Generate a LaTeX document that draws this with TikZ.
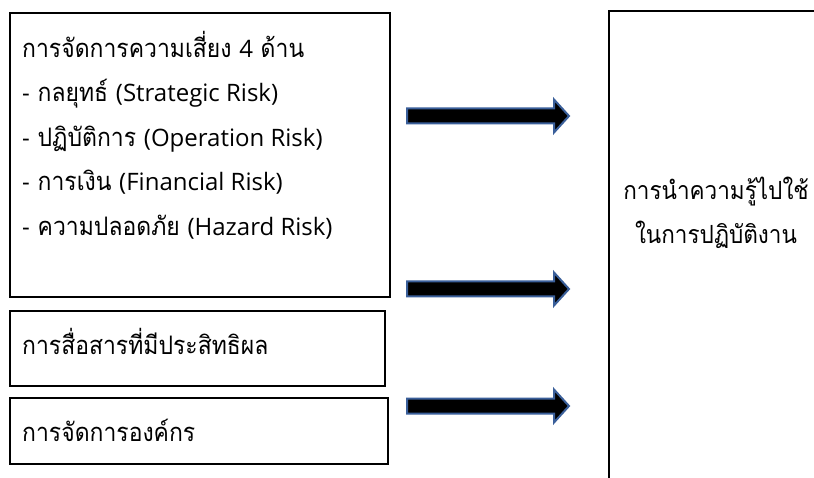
\documentclass[tikz,border=0pt]{standalone}
\usepackage{fontspec}
\setmainfont[Script=Thai, FakeStretch=0.9]{Loma}
\newfontfamily\latinfont{Open Sans}
\newcommand\lt[1]{{\latinfont\fontsize{24}{30}\selectfont #1}}
\definecolor{arrowblue}{HTML}{3A5F9A}
\tikzset{
  x=1pt, y=-1pt,
  box/.style={draw=black, line width=1.6pt, rectangle, inner sep=0pt},
  txt/.style={anchor=base west, inner sep=0pt, font=\fontsize{25.5}{30}\selectfont},
  ctxt/.style={anchor=base, inner sep=0pt, font=\fontsize{25}{30}\selectfont},
  blockarrow/.pic={
    \path[fill=black, draw=arrowblue, line width=2pt, line join=miter]
      (0,-7.5) -- (147,-7.5) -- (147,-16.5) -- (162,0) -- (147,16.5) -- (147,7.5) -- (0,7.5) -- cycle;
  }
}
\begin{document}
\begin{tikzpicture}
\useasboundingbox (0,0) rectangle (814,478);
\fill[white] (0,0) rectangle (814,478);
% boxes
\node[box, anchor=north west, minimum width=380pt, minimum height=284pt] (risk) at (9,12) {};
\node[box, anchor=north west, minimum width=375pt, minimum height=75pt] (comm) at (9,310) {};
\node[box, anchor=north west, minimum width=378pt, minimum height=66pt] (org) at (9,397) {};
\begin{scope}
\clip (0,0) rectangle (814,478);
\node[box, anchor=north west, minimum width=300pt, minimum height=520pt] (apply) at (608,10) {};
\end{scope}
% texts
\node[txt] (r1) at (22,58) {การจัดการความเสี่ยง \lt{4} ด้าน};
\node[txt] (r2) at (22,102) {\lt{-} กลยุทธ์ \lt{(Strategic Risk)}};
\node[txt] (r3) at (22,147) {\lt{-} ปฏิบัติการ \lt{(Operation Risk)}};
\node[txt] (r4) at (22,191) {\lt{-} การเงิน \lt{(Financial Risk)}};
\node[txt] (r5) at (22,236) {\lt{-} ความปลอดภัย \lt{(Hazard Risk)}};
\node[txt] (c1) at (22,355) {การสื่อสารที่มีประสิทธิผล};
\node[txt] (o1) at (22,441) {การจัดการองค์กร};
\node[ctxt] (a1) at (716,200) {การนำความรู้ไปใช้};
\node[ctxt] (a2) at (716,244) {ในการปฏิบัติงาน};
% arrows
\pic (arr1) at (407,116) {blockarrow};
\pic (arr2) at (407,289) {blockarrow};
\pic (arr3) at (407,406) {blockarrow};
\end{tikzpicture}
\end{document}
